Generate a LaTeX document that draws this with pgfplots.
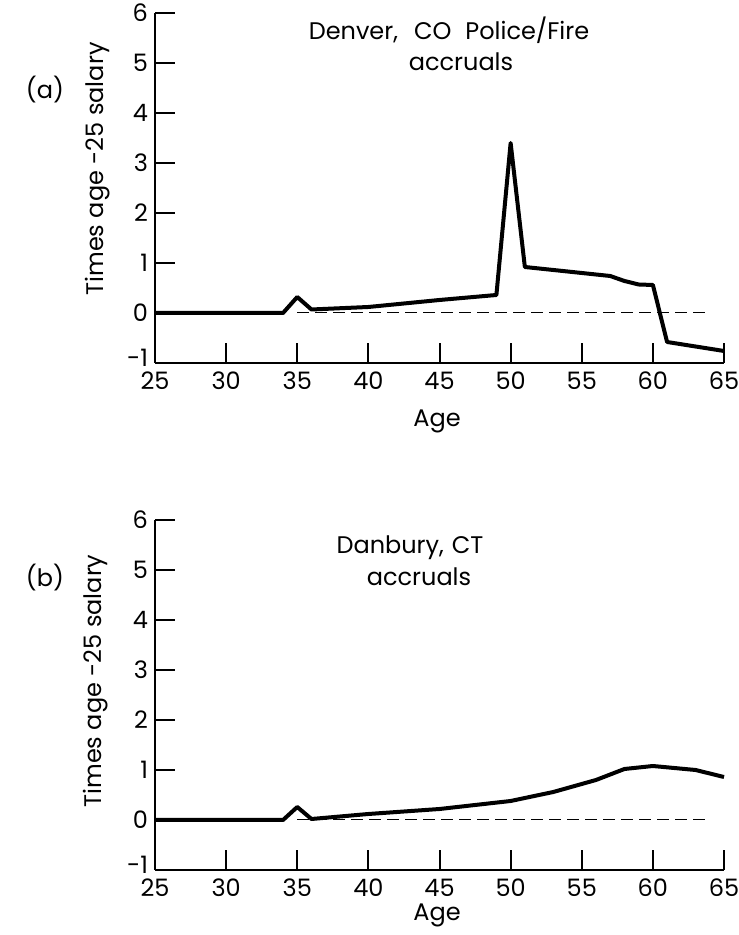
\documentclass[border=0pt]{standalone}
\usepackage{fontspec}
\setmainfont{Poppins}
\usepackage{pgfplots}
\pgfplotsset{compat=1.18}

\pgfplotsset{panel/.style={
    scale only axis, width=284.5pt, height=175pt,
    anchor=south west,
    xmin=25, xmax=65, ymin=-1, ymax=6,
    axis lines=left, axis line style={-, line width=1pt},
    xtick={25,30,...,65}, ytick={-1,0,...,6},
    yticklabels={\raisebox{5pt}{-1},0,1,2,3,4,5,6},
    tick style={line width=1pt, black},
    major tick length=10pt,
    tick align=inside,
    /pgf/number format/assume math mode=true,
    ticklabel style={font=\fontsize{12}{14}\selectfont},
    xticklabel style={yshift=-1pt},
    clip=false,
}}

\begin{document}
\begin{tikzpicture}
\useasboundingbox (0,0) rectangle (369pt,467.5pt);

% (a) Denver
\begin{axis}[panel, at={(77.5pt,286pt)}]
  \addplot[black, line width=0.5pt, dash pattern=on 6pt off 3pt] coordinates {(35,0) (64,0)};
  \addplot[black, line width=2pt, line join=round] coordinates {
    (25,0) (34,0) (35,0.32) (36,0.07) (40,0.12) (45,0.26) (49,0.36)
    (50,3.4) (51,0.92) (53,0.86) (57,0.74) (58,0.64) (59,0.57) (60,0.56)
    (61,-0.58) (65,-0.76)
  };
\end{axis}

% (b) Danbury
\begin{axis}[panel, at={(77.5pt,32.5pt)}]
  \addplot[black, line width=0.5pt, dash pattern=on 6pt off 3pt] coordinates {(35,0) (64,0)};
  \addplot[black, line width=2pt, line join=round] coordinates {
    (25,0) (34,0) (35,0.26) (36,0.02) (40,0.12) (45,0.22) (50,0.38)
    (53,0.56) (55,0.72) (56,0.8) (58,1.02) (60,1.08) (63,1.0) (65,0.86)
  };
\end{axis}

\begin{scope}[every node/.style={font=\fontsize{12}{14}\selectfont}]
  \node at (224.5pt,452.5pt) {Denver,\hspace{8pt}CO\hspace{7pt}Police/Fire};
  \node at (230.5pt,436.5pt) {accruals};
  \node at (22.5pt,422.5pt) {(a)};
  \node[rotate=90, font=\fontsize{12}{14}\selectfont] at (49pt,383pt) {Times age -25 salary};
  \node at (218.5pt,257pt) {Age};

  \node at (205pt,193.5pt) {Danbury,\hspace{4pt}CT};
  \node at (209.5pt,179pt) {accruals};
  \node at (22.5pt,178.5pt) {(b)};
  \node[rotate=90, font=\fontsize{12}{14}\selectfont] at (48pt,127pt) {Times age -25 salary};
  \node at (218.5pt,10pt) {Age};
\end{scope}
\end{tikzpicture}
\end{document}
